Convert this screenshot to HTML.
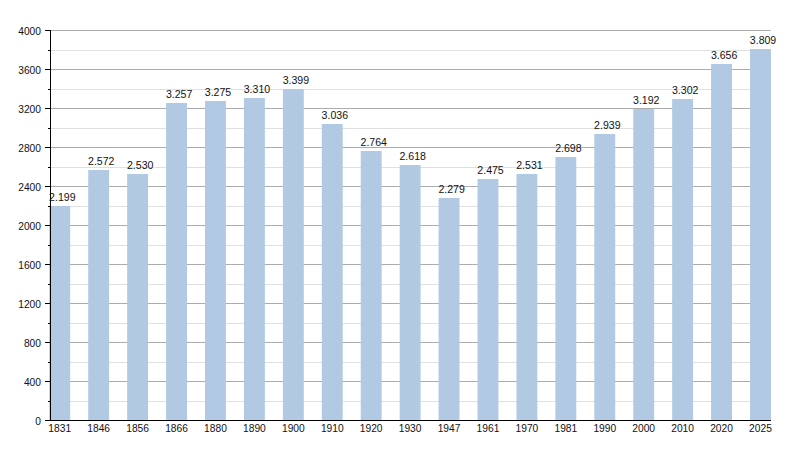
<!DOCTYPE html>
<html><head><meta charset="utf-8"><style>
html,body{margin:0;padding:0;background:#fff;}
svg{display:block;}
text{font-family:"Liberation Sans",sans-serif;font-size:11px;fill:#111;}
</style></head><body>
<svg width="800" height="450" viewBox="0 0 800 450">
<rect width="800" height="450" fill="#fff"/>
<line x1="50" x2="770.7" y1="401.5" y2="401.5" stroke="#e0e0e0" stroke-width="1"/>
<line x1="50" x2="770.7" y1="362.5" y2="362.5" stroke="#e0e0e0" stroke-width="1"/>
<line x1="50" x2="770.7" y1="323.5" y2="323.5" stroke="#e0e0e0" stroke-width="1"/>
<line x1="50" x2="770.7" y1="284.5" y2="284.5" stroke="#e0e0e0" stroke-width="1"/>
<line x1="50" x2="770.7" y1="245.5" y2="245.5" stroke="#e0e0e0" stroke-width="1"/>
<line x1="50" x2="770.7" y1="206.5" y2="206.5" stroke="#e0e0e0" stroke-width="1"/>
<line x1="50" x2="770.7" y1="167.5" y2="167.5" stroke="#e0e0e0" stroke-width="1"/>
<line x1="50" x2="770.7" y1="128.5" y2="128.5" stroke="#e0e0e0" stroke-width="1"/>
<line x1="50" x2="770.7" y1="89.5" y2="89.5" stroke="#e0e0e0" stroke-width="1"/>
<line x1="50" x2="770.7" y1="50.5" y2="50.5" stroke="#e0e0e0" stroke-width="1"/>
<line x1="50" x2="770.7" y1="381.5" y2="381.5" stroke="#acacac" stroke-width="1"/>
<line x1="50" x2="770.7" y1="342.5" y2="342.5" stroke="#acacac" stroke-width="1"/>
<line x1="50" x2="770.7" y1="303.5" y2="303.5" stroke="#acacac" stroke-width="1"/>
<line x1="50" x2="770.7" y1="264.5" y2="264.5" stroke="#acacac" stroke-width="1"/>
<line x1="50" x2="770.7" y1="225.5" y2="225.5" stroke="#acacac" stroke-width="1"/>
<line x1="50" x2="770.7" y1="186.5" y2="186.5" stroke="#acacac" stroke-width="1"/>
<line x1="50" x2="770.7" y1="147.5" y2="147.5" stroke="#acacac" stroke-width="1"/>
<line x1="50" x2="770.7" y1="108.5" y2="108.5" stroke="#acacac" stroke-width="1"/>
<line x1="50" x2="770.7" y1="69.5" y2="69.5" stroke="#acacac" stroke-width="1"/>
<line x1="50" x2="770.7" y1="30.5" y2="30.5" stroke="#acacac" stroke-width="1"/>
<rect x="49.30" y="206" width="20.9" height="214" fill="#b1c9e2"/>
<rect x="88.23" y="170" width="20.9" height="250" fill="#b1c9e2"/>
<rect x="127.16" y="174" width="20.9" height="246" fill="#b1c9e2"/>
<rect x="166.09" y="103" width="20.9" height="317" fill="#b1c9e2"/>
<rect x="205.02" y="101" width="20.9" height="319" fill="#b1c9e2"/>
<rect x="243.95" y="98" width="20.9" height="322" fill="#b1c9e2"/>
<rect x="282.88" y="89" width="20.9" height="331" fill="#b1c9e2"/>
<rect x="321.81" y="124" width="20.9" height="296" fill="#b1c9e2"/>
<rect x="360.74" y="151" width="20.9" height="269" fill="#b1c9e2"/>
<rect x="399.67" y="165" width="20.9" height="255" fill="#b1c9e2"/>
<rect x="438.60" y="198" width="20.9" height="222" fill="#b1c9e2"/>
<rect x="477.53" y="179" width="20.9" height="241" fill="#b1c9e2"/>
<rect x="516.46" y="174" width="20.9" height="246" fill="#b1c9e2"/>
<rect x="555.39" y="157" width="20.9" height="263" fill="#b1c9e2"/>
<rect x="594.32" y="134" width="20.9" height="286" fill="#b1c9e2"/>
<rect x="633.25" y="109" width="20.9" height="311" fill="#b1c9e2"/>
<rect x="672.18" y="99" width="20.9" height="321" fill="#b1c9e2"/>
<rect x="711.11" y="64" width="20.9" height="356" fill="#b1c9e2"/>
<rect x="750.04" y="49" width="20.9" height="371" fill="#b1c9e2"/>
<line x1="50.5" x2="50.5" y1="30" y2="421" stroke="#000" stroke-width="1"/>
<line x1="45" x2="771" y1="420.5" y2="420.5" stroke="#000" stroke-width="1.2"/>
<line x1="45" x2="50" y1="420.5" y2="420.5" stroke="#000" stroke-width="1"/>
<line x1="48" x2="50" y1="401.5" y2="401.5" stroke="#000" stroke-width="1"/>
<line x1="45" x2="50" y1="381.5" y2="381.5" stroke="#000" stroke-width="1"/>
<line x1="48" x2="50" y1="362.5" y2="362.5" stroke="#000" stroke-width="1"/>
<line x1="45" x2="50" y1="342.5" y2="342.5" stroke="#000" stroke-width="1"/>
<line x1="48" x2="50" y1="323.5" y2="323.5" stroke="#000" stroke-width="1"/>
<line x1="45" x2="50" y1="303.5" y2="303.5" stroke="#000" stroke-width="1"/>
<line x1="48" x2="50" y1="284.5" y2="284.5" stroke="#000" stroke-width="1"/>
<line x1="45" x2="50" y1="264.5" y2="264.5" stroke="#000" stroke-width="1"/>
<line x1="48" x2="50" y1="245.5" y2="245.5" stroke="#000" stroke-width="1"/>
<line x1="45" x2="50" y1="225.5" y2="225.5" stroke="#000" stroke-width="1"/>
<line x1="48" x2="50" y1="206.5" y2="206.5" stroke="#000" stroke-width="1"/>
<line x1="45" x2="50" y1="186.5" y2="186.5" stroke="#000" stroke-width="1"/>
<line x1="48" x2="50" y1="167.5" y2="167.5" stroke="#000" stroke-width="1"/>
<line x1="45" x2="50" y1="147.5" y2="147.5" stroke="#000" stroke-width="1"/>
<line x1="48" x2="50" y1="128.5" y2="128.5" stroke="#000" stroke-width="1"/>
<line x1="45" x2="50" y1="108.5" y2="108.5" stroke="#000" stroke-width="1"/>
<line x1="48" x2="50" y1="89.5" y2="89.5" stroke="#000" stroke-width="1"/>
<line x1="45" x2="50" y1="69.5" y2="69.5" stroke="#000" stroke-width="1"/>
<line x1="48" x2="50" y1="50.5" y2="50.5" stroke="#000" stroke-width="1"/>
<line x1="45" x2="50" y1="30.5" y2="30.5" stroke="#000" stroke-width="1"/>
<text x="35.31" y="424.70" textLength="5.69" lengthAdjust="spacingAndGlyphs">0</text>
<text x="23.93" y="385.70" textLength="17.07" lengthAdjust="spacingAndGlyphs">400</text>
<text x="23.93" y="346.70" textLength="17.07" lengthAdjust="spacingAndGlyphs">800</text>
<text x="18.24" y="307.70" textLength="22.76" lengthAdjust="spacingAndGlyphs">1200</text>
<text x="18.24" y="268.70" textLength="22.76" lengthAdjust="spacingAndGlyphs">1600</text>
<text x="18.24" y="229.70" textLength="22.76" lengthAdjust="spacingAndGlyphs">2000</text>
<text x="18.24" y="190.70" textLength="22.76" lengthAdjust="spacingAndGlyphs">2400</text>
<text x="18.24" y="151.70" textLength="22.76" lengthAdjust="spacingAndGlyphs">2800</text>
<text x="18.24" y="112.70" textLength="22.76" lengthAdjust="spacingAndGlyphs">3200</text>
<text x="18.24" y="73.70" textLength="22.76" lengthAdjust="spacingAndGlyphs">3600</text>
<text x="18.24" y="34.70" textLength="22.76" lengthAdjust="spacingAndGlyphs">4000</text>
<text x="48.37" y="432.2" textLength="22.76" lengthAdjust="spacingAndGlyphs">1831</text>
<text x="49.10" y="201" textLength="26.42" lengthAdjust="spacingAndGlyphs">2.199</text>
<text x="87.30" y="432.2" textLength="22.76" lengthAdjust="spacingAndGlyphs">1846</text>
<text x="88.03" y="165" textLength="26.42" lengthAdjust="spacingAndGlyphs">2.572</text>
<text x="126.23" y="432.2" textLength="22.76" lengthAdjust="spacingAndGlyphs">1856</text>
<text x="126.96" y="169" textLength="26.42" lengthAdjust="spacingAndGlyphs">2.530</text>
<text x="165.16" y="432.2" textLength="22.76" lengthAdjust="spacingAndGlyphs">1866</text>
<text x="165.89" y="98" textLength="26.42" lengthAdjust="spacingAndGlyphs">3.257</text>
<text x="204.09" y="432.2" textLength="22.76" lengthAdjust="spacingAndGlyphs">1880</text>
<text x="204.82" y="96" textLength="26.42" lengthAdjust="spacingAndGlyphs">3.275</text>
<text x="243.02" y="432.2" textLength="22.76" lengthAdjust="spacingAndGlyphs">1890</text>
<text x="243.75" y="93" textLength="26.42" lengthAdjust="spacingAndGlyphs">3.310</text>
<text x="281.95" y="432.2" textLength="22.76" lengthAdjust="spacingAndGlyphs">1900</text>
<text x="282.68" y="84" textLength="26.42" lengthAdjust="spacingAndGlyphs">3.399</text>
<text x="320.88" y="432.2" textLength="22.76" lengthAdjust="spacingAndGlyphs">1910</text>
<text x="321.61" y="119" textLength="26.42" lengthAdjust="spacingAndGlyphs">3.036</text>
<text x="359.81" y="432.2" textLength="22.76" lengthAdjust="spacingAndGlyphs">1920</text>
<text x="360.54" y="146" textLength="26.42" lengthAdjust="spacingAndGlyphs">2.764</text>
<text x="398.74" y="432.2" textLength="22.76" lengthAdjust="spacingAndGlyphs">1930</text>
<text x="399.47" y="160" textLength="26.42" lengthAdjust="spacingAndGlyphs">2.618</text>
<text x="437.67" y="432.2" textLength="22.76" lengthAdjust="spacingAndGlyphs">1947</text>
<text x="438.40" y="193" textLength="26.42" lengthAdjust="spacingAndGlyphs">2.279</text>
<text x="476.60" y="432.2" textLength="22.76" lengthAdjust="spacingAndGlyphs">1961</text>
<text x="477.33" y="174" textLength="26.42" lengthAdjust="spacingAndGlyphs">2.475</text>
<text x="515.53" y="432.2" textLength="22.76" lengthAdjust="spacingAndGlyphs">1970</text>
<text x="516.26" y="169" textLength="26.42" lengthAdjust="spacingAndGlyphs">2.531</text>
<text x="554.46" y="432.2" textLength="22.76" lengthAdjust="spacingAndGlyphs">1981</text>
<text x="555.19" y="152" textLength="26.42" lengthAdjust="spacingAndGlyphs">2.698</text>
<text x="593.39" y="432.2" textLength="22.76" lengthAdjust="spacingAndGlyphs">1990</text>
<text x="594.12" y="129" textLength="26.42" lengthAdjust="spacingAndGlyphs">2.939</text>
<text x="632.32" y="432.2" textLength="22.76" lengthAdjust="spacingAndGlyphs">2000</text>
<text x="633.05" y="104" textLength="26.42" lengthAdjust="spacingAndGlyphs">3.192</text>
<text x="671.25" y="432.2" textLength="22.76" lengthAdjust="spacingAndGlyphs">2010</text>
<text x="671.98" y="94" textLength="26.42" lengthAdjust="spacingAndGlyphs">3.302</text>
<text x="710.18" y="432.2" textLength="22.76" lengthAdjust="spacingAndGlyphs">2020</text>
<text x="710.91" y="59" textLength="26.42" lengthAdjust="spacingAndGlyphs">3.656</text>
<text x="749.11" y="432.2" textLength="22.76" lengthAdjust="spacingAndGlyphs">2025</text>
<text x="749.84" y="44" textLength="26.42" lengthAdjust="spacingAndGlyphs">3.809</text>
</svg>
</body></html>
